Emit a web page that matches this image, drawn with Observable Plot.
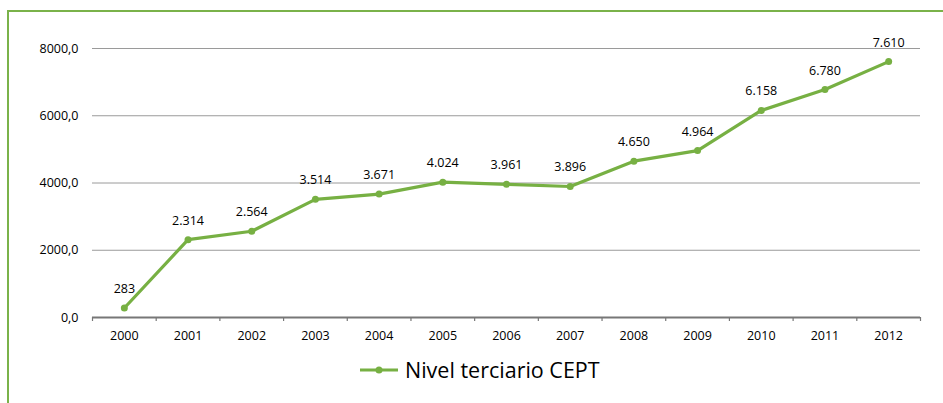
<!DOCTYPE html>
<html>
<head>
<meta charset="utf-8">
<script src="https://cdn.jsdelivr.net/npm/d3@7"></script>
<script src="https://cdn.jsdelivr.net/npm/@observablehq/plot@0.6"></script>
<style>
  html, body { margin: 0; padding: 0; background: #fff; }
  #wrap { position: relative; width: 943px; height: 403px; overflow: hidden; font-family: "Open Sans", sans-serif; }
  #frame { position: absolute; left: 7px; top: 10px; width: 960px; height: 420px; border-top: 2px solid #7ab24a; border-left: 2px solid #7ab24a; box-sizing: border-box; }
  #chart { position: absolute; left: 0; top: 0; }
  #legend { position: absolute; left: 360px; top: 355px; display: flex; align-items: center; font-size: 21.5px; color: #000; }
  #legend svg { margin-right: 7px; }
</style>
</head>
<body>
<div id="wrap">
  <div id="frame"></div>
  <div id="chart"></div>
  <div id="legend"></div>
</div>
<script>
const years = [2000, 2001, 2002, 2003, 2004, 2005, 2006, 2007, 2008, 2009, 2010, 2011, 2012];
const values = [283, 2314, 2564, 3514, 3671, 4024, 3961, 3896, 4650, 4964, 6158, 6780, 7610];
const yTicks = [0, 2000, 4000, 6000, 8000];
const seriesName = "Nivel terciario CEPT";
const green = "#77b043";

const data = years.map((y, i) => ({year: y, value: values[i]}));
const boundaries = years.map(y => y - 0.5).concat([years[years.length - 1] + 0.5]);
const loc = d3.formatLocale({decimal: ",", thousands: ".", grouping: [3], currency: ["", ""]});
const fmtLabel = loc.format(",d");
const fmtAxis = loc.format(".1f");

const chart = Plot.plot({
  width: 943,
  height: 345,
  marginLeft: 92,
  marginRight: 23,
  marginTop: 48,
  marginBottom: 28,
  style: {fontFamily: "'Open Sans', sans-serif", fontSize: "12.5px", color: "#000", background: "transparent"},
  x: {domain: [boundaries[0], boundaries[boundaries.length - 1]]},
  y: {domain: [0, 8000]},
  marks: [
    Plot.ruleY(yTicks.filter(d => d > 0), {stroke: "#9a9a9a", strokeWidth: 1}),
    Plot.axisY({ticks: yTicks, tickSize: 0, tickPadding: 14, tickFormat: fmtAxis, label: null, fontSize: 12.5, fill: "#000"}),
    Plot.axisX({ticks: boundaries, tickSize: 4, tickFormat: () => "", label: null, stroke: "#777", strokeWidth: 1.2}),
    Plot.axisX({ticks: years, tickSize: 0, tickPadding: 14, tickFormat: d => String(d), label: null, fontSize: 12.5, fill: "#000"}),
    Plot.ruleY([0], {stroke: "#777", strokeWidth: 2}),
    Plot.line(data, {x: "year", y: "value", stroke: green, strokeWidth: 3.2}),
    Plot.dot(data, {x: "year", y: "value", r: 3.5, fill: green}),
    Plot.text(data, {x: "year", y: "value", text: d => fmtLabel(d.value), dy: -19, fontSize: 12.5, fill: "#000"})
  ]
});
document.getElementById("chart").appendChild(chart);

const legend = document.getElementById("legend");
legend.innerHTML = `<svg width="38" height="10"><line x1="0" y1="5" x2="38" y2="5" stroke="${green}" stroke-width="3.2"/><circle cx="19" cy="5" r="3.5" fill="${green}"/></svg><span>${seriesName}</span>`;
</script>
</body>
</html>
